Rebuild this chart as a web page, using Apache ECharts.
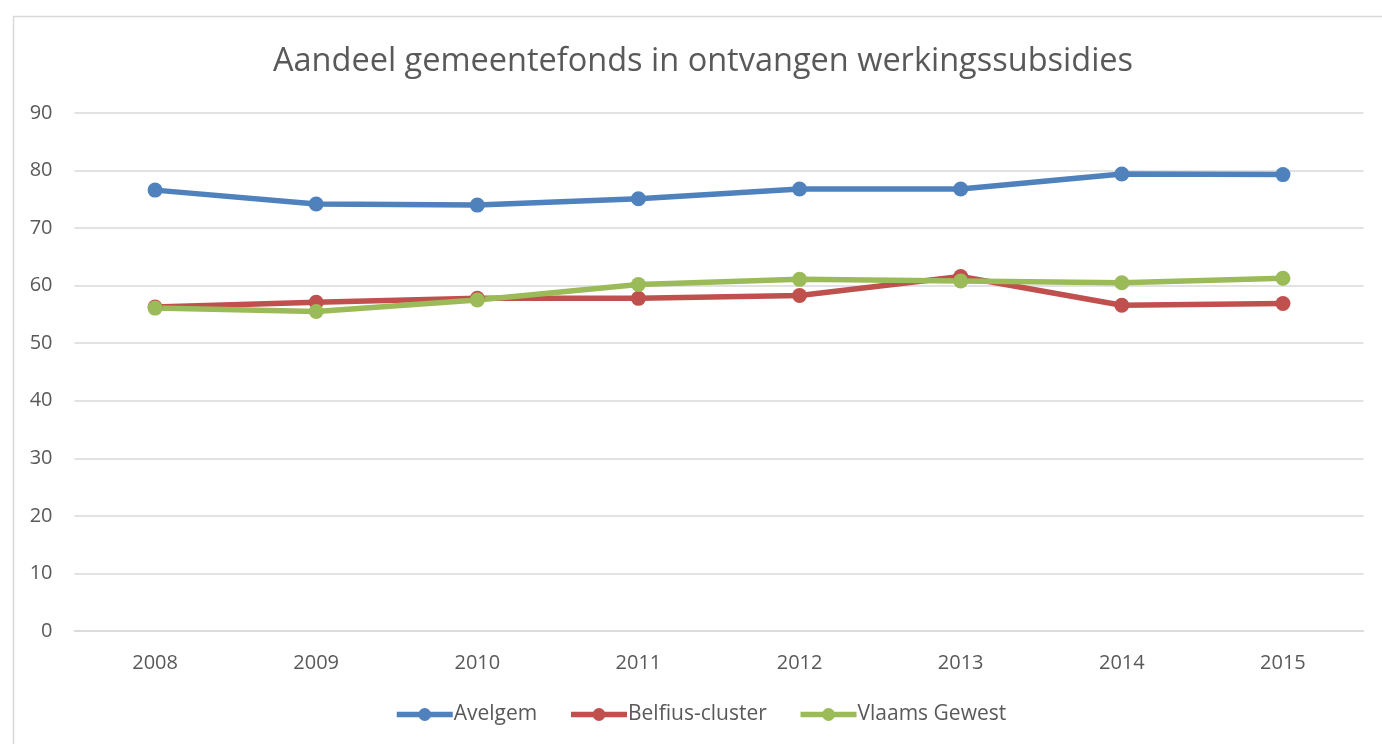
<!DOCTYPE html>
<html>
<head>
<meta charset="utf-8">
<script src="https://cdn.jsdelivr.net/npm/echarts@6/dist/echarts.min.js"></script>
<style>
  html, body { margin: 0; padding: 0; background: #ffffff; }
  #chart { width: 1382px; height: 744px; }
</style>
</head>
<body>
<div id="chart"></div>
<script>
// Jaren op de categorie-as
const years = ['2008', '2009', '2010', '2011', '2012', '2013', '2014', '2015'];

// Aandeel gemeentefonds (%) per reeks
const avelgem = [76.6, 74.2, 74.0, 75.1, 76.8, 76.8, 79.4, 79.3];
const belfiusCluster = [56.3, 57.1, 57.8, 57.8, 58.3, 61.6, 56.6, 56.9];
const vlaamsGewest = [56.1, 55.5, 57.5, 60.2, 61.1, 60.8, 60.5, 61.3];

const seriesNames = ['Avelgem', 'Belfius-cluster', 'Vlaams Gewest'];
const seriesColors = ['#4F81BD', '#C0504D', '#9BBB59'];

const FONT = '"Open Sans", "Liberation Sans", sans-serif';
const TEXT = '#595959';

const chart = echarts.init(document.getElementById('chart'), null, { renderer: 'canvas' });

function lineSeries(name, data, color) {
  return {
    name: name,
    type: 'line',
    data: data,
    symbol: 'circle',
    symbolSize: 15,
    lineStyle: { width: 5.5, color: color },
    itemStyle: { color: color },
    emphasis: { disabled: true },
    animation: false
  };
}

chart.setOption({
  backgroundColor: '#ffffff',
  color: seriesColors,
  graphic: [{
    type: 'rect',
    left: 11, top: 14,
    shape: { width: 1400, height: 760 },
    style: { fill: 'none', stroke: '#D9D9D9', lineWidth: 1.5 },
    silent: true,
    z: -1
  }],
  title: {
    text: 'Aandeel gemeentefonds in ontvangen werkingssubsidies',
    left: 268,
    top: 40,
    textStyle: { fontFamily: FONT, fontSize: 32.5, fontWeight: 'normal', color: TEXT }
  },
  legend: {
    data: seriesNames,
    bottom: 14,
    left: 389,
    itemWidth: 56,
    itemHeight: 16,
    itemGap: 31,
    lineStyle: { width: 5.5 },
    textStyle: { fontFamily: FONT, fontSize: 21, color: TEXT, padding: [0, 0, 0, -4] }
  },
  grid: {
    left: 74.5,
    right: 18.5,
    top: 113,
    bottom: 113,
    containLabel: false
  },
  xAxis: {
    type: 'category',
    data: years,
    boundaryGap: true,
    axisLine: { show: true, lineStyle: { color: '#D9D9D9', width: 1.5 } },
    axisTick: { show: false },
    axisLabel: { fontFamily: FONT, fontSize: 20, color: TEXT, margin: 22 }
  },
  yAxis: {
    type: 'value',
    min: 0,
    max: 90,
    interval: 10,
    axisLine: { show: false },
    axisTick: { show: false },
    splitLine: { lineStyle: { color: '#D9D9D9', width: 1.5 } },
    axisLabel: { fontFamily: FONT, fontSize: 20, color: TEXT, margin: 22 }
  },
  series: [
    lineSeries(seriesNames[0], avelgem, seriesColors[0]),
    lineSeries(seriesNames[1], belfiusCluster, seriesColors[1]),
    lineSeries(seriesNames[2], vlaamsGewest, seriesColors[2])
  ]
});
</script>
</body>
</html>
